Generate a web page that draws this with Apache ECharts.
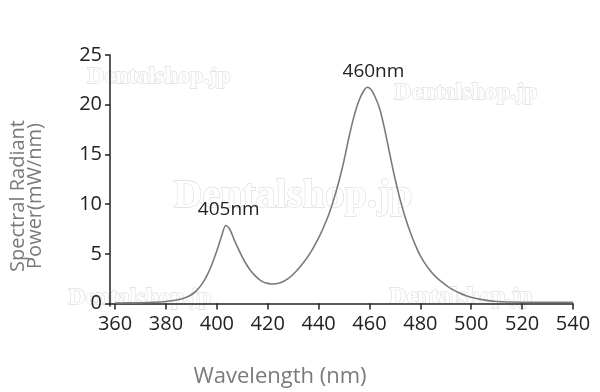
<!DOCTYPE html>
<html>
<head>
<meta charset="utf-8">
<script src="https://cdn.jsdelivr.net/npm/echarts@6/dist/echarts.min.js"></script>
<style>html,body{margin:0;padding:0;background:#fff}#c{width:600px;height:392px}</style>
</head>
<body>
<div id="c"></div>
<script>
// Wavelength (nm)
const wavelengths = [360,365,370,375,380,383,386,388,390,392,394,396,398,400,402,403.5,405,407,409,411,413,415,417,419,421.6,425,428,431,434,437,440,442,444,446,448,450,452,454,456,458,459.2,460.5,462,464,466,468,470,472,474,476,478,480,483,486,489,492,495,498,502,506,510,515,520,530,540];
// Spectral radiant power (mW/nm)
const power = [0.05,0.06,0.08,0.12,0.2,0.3,0.45,0.62,0.88,1.3,1.9,2.75,3.9,5.3,6.9,7.85,7.5,6.3,5.2,4.2,3.4,2.8,2.36,2.08,1.96,2.1,2.5,3.2,4.1,5.2,6.6,7.7,8.95,10.5,12.3,14.4,16.8,18.9,20.5,21.5,21.75,21.55,20.9,19.6,17.5,15.0,12.6,10.5,8.7,7.2,5.9,4.8,3.6,2.7,2.05,1.5,1.1,0.78,0.5,0.32,0.2,0.15,0.13,0.12,0.12];
const xTicks = [360,380,400,420,440,460,480,500,520,540];
const yTicks = [0,5,10,15,20,25];
const peaks = [{x:403.5, y:7.85, label:'405nm', dx:3}, {x:459.2, y:21.75, label:'460nm', dx:6}];
const watermarks = [
  {x:159, y:77, size:24}, {x:466, y:93, size:24}, {x:293, y:197, size:40},
  {x:140, y:298, size:24}, {x:461, y:297, size:24}
];

const FONT = '"Open Sans", "Noto Sans", sans-serif';
const chart = echarts.init(document.getElementById('c'), null, {renderer:'canvas'});
chart.setOption({
  animation:false,
  backgroundColor:'#fff',
  grid:{left:110, right:27, top:55, bottom:86, containLabel:false},
  xAxis:{
    type:'value', min:358, max:540,
    axisLine:{show:true, lineStyle:{color:'#222', width:1.5}},
    axisTick:{show:true, length:6, customValues:xTicks, lineStyle:{color:'#222', width:1.5}},
    axisLabel:{customValues:xTicks, color:'#222', fontSize:20, fontFamily:FONT, margin:8},
    splitLine:{show:false}
  },
  yAxis:{
    type:'value', min:-0.25, max:25,
    axisLine:{show:true, lineStyle:{color:'#222', width:1.5}},
    axisTick:{show:true, length:5, customValues:yTicks, lineStyle:{color:'#222', width:1.5}},
    axisLabel:{customValues:yTicks, color:'#222', fontSize:20, fontFamily:FONT, margin:8},
    splitLine:{show:false}
  },
  graphic:[
    ...watermarks.map(w=>({type:'text', x:w.x, y:w.y, z:-1, style:{text:'Dentalshop.jp', fill:'#fff', stroke:'#dedede', lineWidth:1.3, font:'bold '+w.size+'px "Liberation Serif", "DejaVu Serif", serif', align:'center', verticalAlign:'middle'}})),
    {type:'text', x:280, y:377, style:{text:'Wavelength (nm)', fill:'#7a7a7a', font:'22px '+FONT, align:'center', verticalAlign:'middle'}},
    {type:'text', x:27, y:196, rotation:Math.PI/2, style:{text:'Spectral Radiant\nPower(mW/nm)', fill:'#7a7a7a', font:'20px '+FONT, align:'center', verticalAlign:'middle', lineHeight:17}}
  ],
  series:[{
    type:'line', smooth:0.3, symbol:'none', z:5,
    data:wavelengths.map((w,i)=>[w,power[i]]),
    lineStyle:{color:'#7a7a7a', width:1.6},
    markPoint:{
      symbol:'circle', symbolSize:0,
      label:{show:true, formatter:p=>p.name, color:'#222', fontSize:19, fontFamily:FONT, position:'top', distance:6},
      data:peaks.map(p=>({name:p.label, coord:[p.x,p.y], label:{offset:[p.dx,0]}}))
    }
  }]
});
</script>
</body>
</html>
